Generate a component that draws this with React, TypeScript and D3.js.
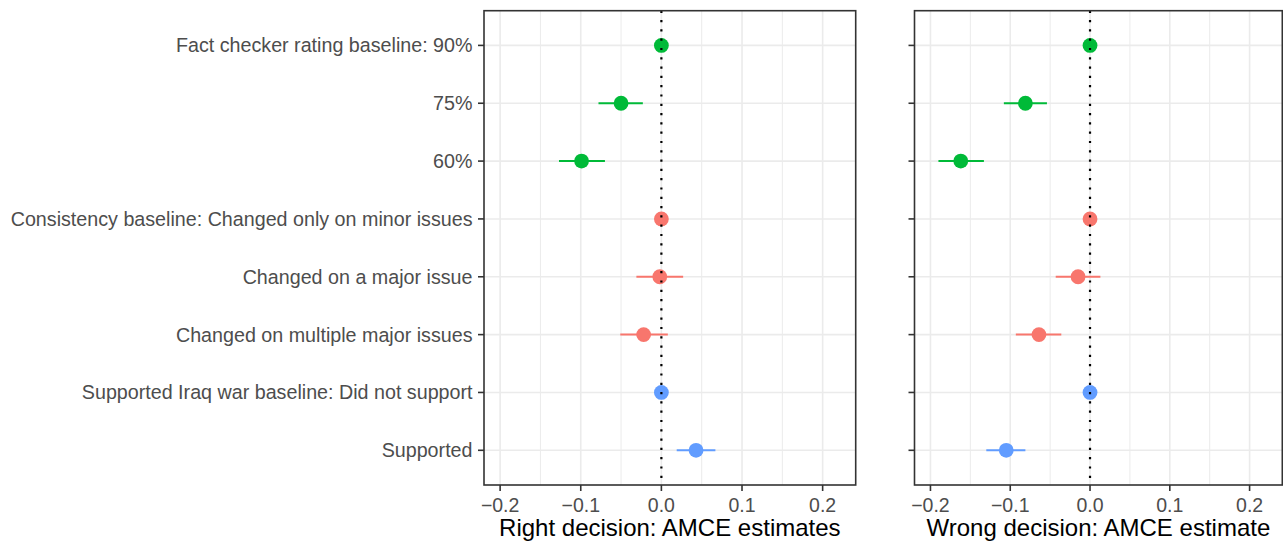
import * as d3 from "d3";

const categories = [
  "Fact checker rating baseline: 90%",
  "75%",
  "60%",
  "Consistency baseline: Changed only on minor issues",
  "Changed on a major issue",
  "Changed on multiple major issues",
  "Supported Iraq war baseline: Did not support",
  "Supported",
];
const groups = ["fact", "fact", "fact", "cons", "cons", "cons", "iraq", "iraq"];
const groupColors: Record<string, string> = {
  fact: "#00BA38",
  cons: "#F8766D",
  iraq: "#619CFF",
};

const rightEst = [0, -0.05, -0.099, 0, -0.002, -0.022, 0, 0.043];
const rightLo = [0, -0.078, -0.127, 0, -0.031, -0.051, 0, 0.019];
const rightHi = [0, -0.023, -0.07, 0, 0.027, 0.008, 0, 0.067];

const wrongEst = [0, -0.081, -0.162, 0, -0.015, -0.064, 0, -0.105];
const wrongLo = [0, -0.108, -0.19, 0, -0.043, -0.093, 0, -0.13];
const wrongHi = [0, -0.054, -0.133, 0, 0.013, -0.036, 0, -0.081];

const xTicks = [-0.2, -0.1, 0, 0.1, 0.2];
const xMinor = [-0.15, -0.05, 0.05, 0.15];

const W = 1283;
const H = 544;
const top = 10.7;
const bottom = 485;
const font = "'Liberation Sans', Arial, Helvetica, sans-serif";

const y = d3.scalePoint<string>().domain(categories).range([top, bottom]).padding(0.6);

function Panel({
  x0,
  x1,
  est,
  lo,
  hi,
  title,
  showLabels,
}: {
  x0: number;
  x1: number;
  est: number[];
  lo: number[];
  hi: number[];
  title: string;
  showLabels: boolean;
}) {
  const x = d3.scaleLinear().domain([-0.22, 0.241]).range([x0, x1]);
  const fmt = d3.format(".1f");
  return (
    <g>
      {xMinor.map((t) => (
        <line key={"mn" + t} x1={x(t)} x2={x(t)} y1={top} y2={bottom} stroke="#EBEBEB" strokeWidth={1} />
      ))}
      {xTicks.map((t) => (
        <line key={"mj" + t} x1={x(t)} x2={x(t)} y1={top} y2={bottom} stroke="#EBEBEB" strokeWidth={1.6} />
      ))}
      {categories.map((c) => (
        <line key={"hg" + c} x1={x0} x2={x1} y1={y(c)} y2={y(c)} stroke="#EBEBEB" strokeWidth={1.6} />
      ))}
      {categories.map((c, i) =>
        hi[i] !== lo[i] ? (
          <line
            key={"eb" + c}
            x1={x(lo[i])}
            x2={x(hi[i])}
            y1={y(c)}
            y2={y(c)}
            stroke={groupColors[groups[i]]}
            strokeWidth={2}
          />
        ) : null
      )}
      {categories.map((c, i) => (
        <circle key={"pt" + c} cx={x(est[i])} cy={y(c)} r={7.4} fill={groupColors[groups[i]]} />
      ))}
      <line
        x1={x(0)}
        x2={x(0)}
        y1={top}
        y2={bottom}
        stroke="#000"
        strokeWidth={2.2}
        strokeDasharray="2.2 7.1"
      />
      <rect x={x0} y={top} width={x1 - x0} height={bottom - top} fill="none" stroke="#333333" strokeWidth={1.6} />
      {categories.map((c) => (
        <line key={"yt" + c} x1={x0 - 6} x2={x0} y1={y(c)} y2={y(c)} stroke="#333333" strokeWidth={1.6} />
      ))}
      {showLabels &&
        categories.map((c) => (
          <text
            key={"yl" + c}
            x={x0 - 11.5}
            y={y(c)}
            dy="0.35em"
            textAnchor="end"
            fill="#4D4D4D"
            fontSize={19.7}
            fontFamily={font}
          >
            {c}
          </text>
        ))}
      {xTicks.map((t) => (
        <g key={"xt" + t}>
          <line x1={x(t)} x2={x(t)} y1={bottom} y2={bottom + 6} stroke="#333333" strokeWidth={1.6} />
          <text x={x(t)} y={512} textAnchor="middle" fill="#4D4D4D" fontSize={19.5} fontFamily={font}>
            {fmt(t).replace("-", "\u2212")}
          </text>
        </g>
      ))}
      <text x={(x0 + x1) / 2} y={535.5} textAnchor="middle" fill="#000" fontSize={24} fontFamily={font}>
        {title}
      </text>
    </g>
  );
}

export default function App() {
  return (
    <svg
      width={W}
      height={H}
      viewBox={`0 0 ${W} ${H}`}
      style={{ position: "absolute", left: 0, top: 0, background: "#fff" }}
    >
      <rect width={W} height={H} fill="#fff" />
      <Panel
        x0={484}
        x1={855.7}
        est={rightEst}
        lo={rightLo}
        hi={rightHi}
        title="Right decision: AMCE estimates"
        showLabels={true}
      />
      <Panel
        x0={914.5}
        x1={1282.3}
        est={wrongEst}
        lo={wrongLo}
        hi={wrongHi}
        title="Wrong decision: AMCE estimate"
        showLabels={false}
      />
    </svg>
  );
}
